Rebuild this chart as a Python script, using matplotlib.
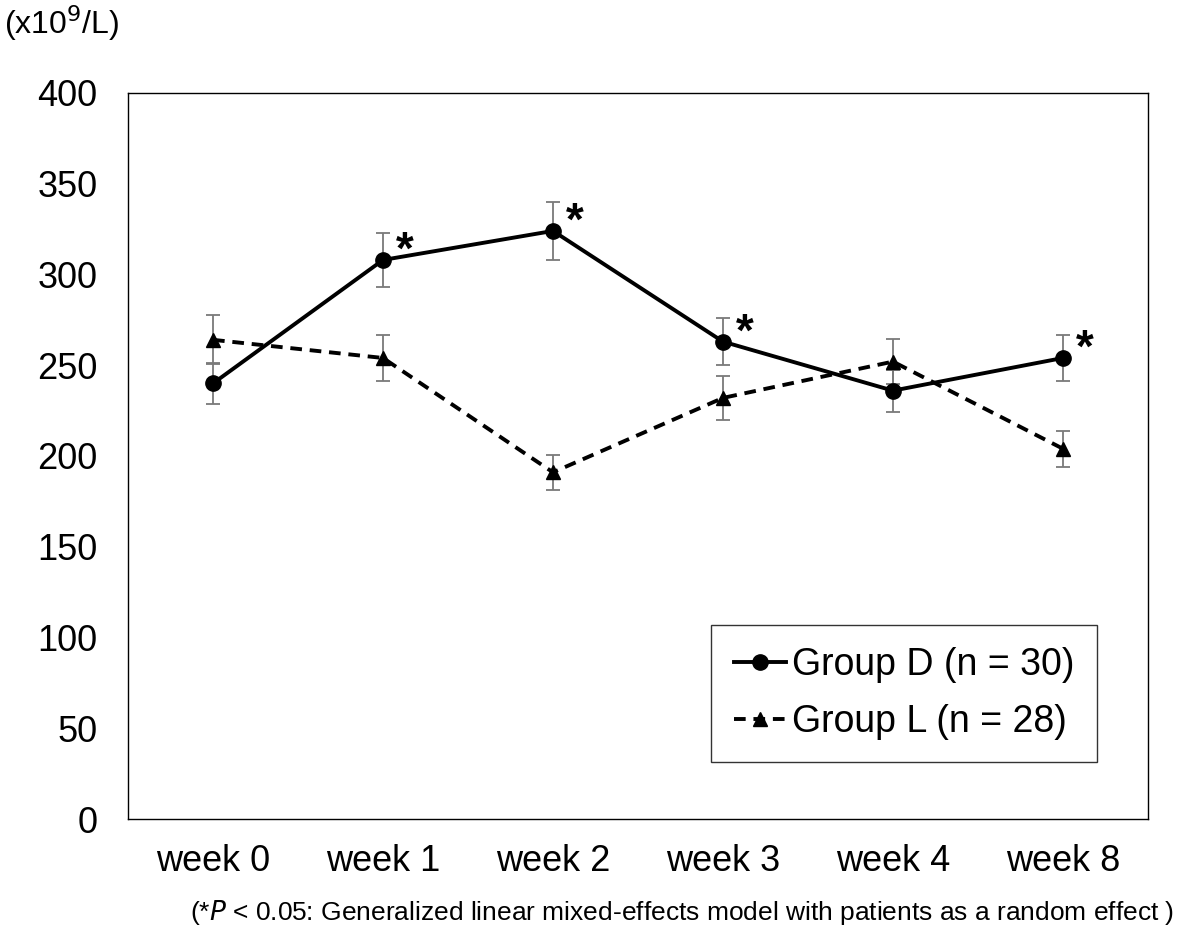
import matplotlib
matplotlib.use("Agg")
import matplotlib.pyplot as plt
from matplotlib.lines import Line2D

weeks = ["week 0", "week 1", "week 2", "week 3", "week 4", "week 8"]
group_d = [240, 308, 324, 263, 236, 254]
group_d_err = [11.5, 15, 16, 13, 11.5, 12.5]
group_l = [264, 254, 191, 232, 252, 204]
group_l_err = [13.5, 12.5, 9.5, 12, 12.5, 10]
sig_d = [False, True, True, True, False, True]
yticks = [0, 50, 100, 150, 200, 250, 300, 350, 400]

plt.rcParams['font.family'] = ['Liberation Sans', 'DejaVu Sans']

fig = plt.figure(figsize=(11.81, 9.27), dpi=100)
ax = fig.add_axes([0.1084, 0.1165, 0.8636, 0.7832])
x = list(range(len(weeks)))

ax.errorbar(x, group_d, yerr=group_d_err, fmt='none', ecolor='#7a7a7a',
            elinewidth=1.3, capsize=5, capthick=1.3, zorder=1)
ax.errorbar(x, group_l, yerr=group_l_err, fmt='none', ecolor='#7a7a7a',
            elinewidth=1.3, capsize=5, capthick=1.3, zorder=1)
ax.plot(x, group_d, '-', color='black', lw=2.8, marker='o', markersize=11, zorder=3)
ax.plot(x, group_l, '--', color='black', lw=2.8, marker='^', markersize=10,
        dashes=(3, 2), zorder=2)

for xi, yi, s in zip(x, group_d, sig_d):
    if s:
        ax.annotate('*', (xi, yi), xytext=(16, -3), textcoords='offset points',
                    fontsize=33, fontweight='bold', ha='center', va='baseline')

ax.set_xlim(-0.5, len(weeks) - 0.5)
ax.set_ylim(0, 400)
ax.set_yticks(yticks)
ax.set_xticks(x)
ax.set_xticklabels(weeks)
ax.tick_params(axis='both', length=0, labelsize=26)
ax.tick_params(axis='x', pad=18)
ax.tick_params(axis='y', pad=22)
for sp in ax.spines.values():
    sp.set_linewidth(1.0)
    sp.set_color('black')

handles = [
    Line2D([0], [0], color='black', lw=2.8, marker='o', markersize=11),
    Line2D([0], [0], color='black', lw=2.8, ls='--', dashes=(3, 2), marker='^', markersize=10),
]
leg = ax.legend(handles, ["Group D (n = 30)", "Group L (n = 28)"],
                loc='lower right', bbox_to_anchor=(0.95, 0.078), fontsize=27,
                frameon=True, fancybox=False, edgecolor='black', handlelength=1.4,
                handletextpad=0.15, borderpad=0.6, labelspacing=0.55, borderaxespad=0)
leg.get_frame().set_linewidth(1.0)

fig.text(0.003, 0.975, "(x10$^{9}$/L)", fontsize=23, ha='left', va='center')
fig.text(0.161, 0.016,
         "(*$\\it{P}$ < 0.05: Generalized linear mixed-effects model with patients as a random effect )",
         fontsize=19, ha='left', va='center')

fig.savefig("out.png", dpi=100)
